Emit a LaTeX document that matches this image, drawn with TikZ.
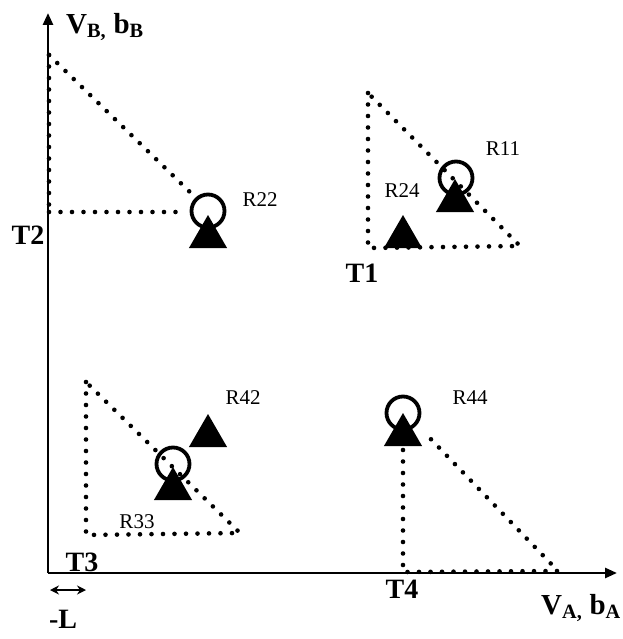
\documentclass[tikz,border=0pt]{standalone}
\usepackage{fontspec}
\setmainfont{Liberation Serif}
\usetikzlibrary{arrows.meta,shapes.geometric}

\begin{document}
\begin{tikzpicture}[
    x=1pt, y=-1pt,
    axis/.style={line width=2.6pt, -{Triangle[length=12pt,width=10pt]}},
    dotline/.style={line width=4.6pt, line cap=round, dash pattern=on 0pt off 11.5pt},
    rcircle/.style={circle, draw, line width=3.8pt, minimum size=33pt, inner sep=0pt},
    rtri/.style={regular polygon, regular polygon sides=3, fill, inner sep=0pt, minimum size=44pt},
    rlabel/.style={font=\fontsize{21}{21}\selectfont, inner sep=0pt},
    tlabel/.style={font=\fontsize{28}{28}\selectfont\bfseries, inner sep=0pt}
]
\useasboundingbox (0,0) rectangle (622,639);

% axes
\coordinate (O) at (48,573);
\coordinate (ytop) at (48,13);
\coordinate (xend) at (617,573);
\draw[axis] (O) -- (ytop);
\draw[axis] (O) -- (xend);
\node[font=\fontsize{29}{29}\selectfont\bfseries, anchor=west, inner sep=0pt] (vb) at (66,27)
  {V\textsubscript{B,} b\textsubscript{B}};
\node[font=\fontsize{29}{29}\selectfont\bfseries, inner sep=0pt] (va) at (581,608)
  {V\textsubscript{A,} b\textsubscript{A}};

% T2
\coordinate (t2a) at (49,55);
\coordinate (t2b) at (49,212);
\coordinate (t2c) at (180,212);
\coordinate (t2d) at (194,196);
\draw[dotline] (t2a) -- (t2b);
\draw[dotline] (t2b) -- (t2c);
\draw[dotline] (t2a) -- (t2d);
\node[rtri] (tri22) at (208,237) {};
\node[rcircle] (c22) at (208,211) {};
\node[rlabel] (l22) at (260,200) {R22};
\node[tlabel] (T2) at (28,235) {T2};

% T1
\coordinate (t1a) at (368,93);
\coordinate (t1b) at (368,248);
\coordinate (t1c) at (520,246);
\draw[dotline] (t1a) -- (t1b) -- (t1c) -- cycle;
\node[rtri] (tri11) at (455,201) {};
\node[rcircle] (c11) at (456,178) {};
\node[rlabel] (l11) at (503,149) {R11};
\node[rtri] (tri24) at (403,237) {};
\node[rlabel] (l24) at (402,191) {R24};
\node[tlabel] (T1) at (362,273) {T1};

% T3
\coordinate (t3a) at (86,382);
\coordinate (t3b) at (86,535);
\coordinate (t3c) at (240,533);
\draw[dotline] (t3a) -- (t3b) -- (t3c) -- cycle;
\node[rtri] (tri33) at (173,489) {};
\node[rcircle] (c33) at (173,464) {};
\node[rlabel] (l33) at (137,522) {R33};
\node[rtri] (tri42) at (208,436) {};
\node[rlabel] (l42) at (243,398) {R42};
\node[tlabel] (T3) at (82,562) {T3};

% T4
\coordinate (t4a) at (403,450);
\coordinate (t4b) at (403,572);
\coordinate (t4c) at (558,571);
\coordinate (t4d) at (424,432);
\draw[dotline] (t4a) -- (t4b) -- (t4c) -- (t4d);
\node[rtri] (tri44) at (403,435) {};
\node[rcircle] (c44) at (403,413) {};
\node[rlabel] (l44) at (470,398) {R44};
\node[tlabel] (T4) at (402,589) {T4};

% -L
\coordinate (la) at (50,590);
\coordinate (lb) at (86,590);
\draw[line width=2.2pt, {Stealth[length=9pt,width=9pt]}-{Stealth[length=9pt,width=9pt]}] (la) -- (lb);
\node[tlabel] (mL) at (63,619) {-L};
\end{tikzpicture}
\end{document}
